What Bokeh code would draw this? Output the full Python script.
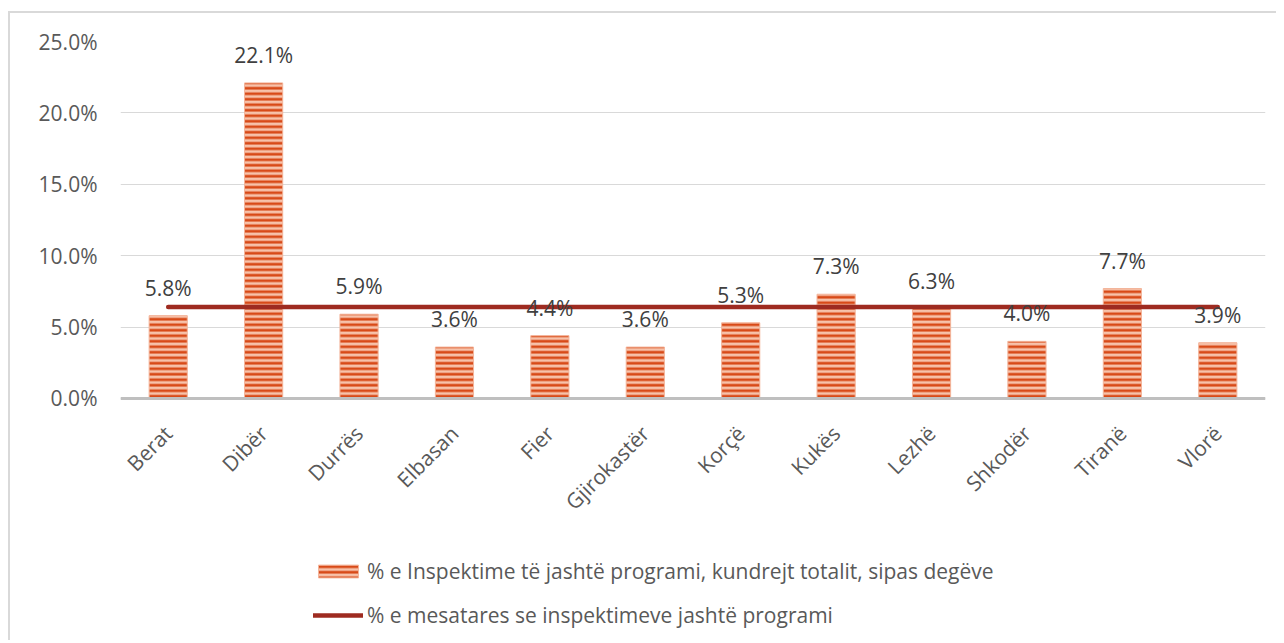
from bokeh.plotting import figure
from bokeh.models import (FactorRange, Range1d, FixedTicker, PrintfTickFormatter,
                          ColumnDataSource, Legend, LegendItem, LabelSet)
from bokeh.core.properties import value
from bokeh.embed import file_html
from bokeh.resources import INLINE
import math

categories = ["Berat", "Dibër", "Durrës", "Elbasan", "Fier", "Gjirokastër",
              "Korçë", "Kukës", "Lezhë", "Shkodër", "Tiranë", "Vlorë"]
values = [5.8, 22.1, 5.9, 3.6, 4.4, 3.6, 5.3, 7.3, 6.3, 4.0, 7.7, 3.9]
mean_value = 6.4
y_ticks = [0, 5, 10, 15, 20, 25]
bar_label = "% e Inspektime të jashtë programi, kundrejt totalit, sipas degëve"
line_label = "% e mesatares se inspektimeve jashtë programi"

FONT = "Open Sans"
FS = "21px"

src = ColumnDataSource(dict(cat=categories, val=values,
                            lbl=[f"{v:.1f}%" for v in values]))

# frame extends below the value axis so that the category labels and the
# legend can sit inside it; the x axis is pinned at y = 0
p = figure(x_range=FactorRange(*categories), y_range=Range1d(-16.95, 25),
           frame_width=1145, frame_height=599, output_backend="svg",
           toolbar_location=None,
           min_border_left=110, min_border_right=11, min_border_top=28,
           min_border_bottom=0)
p.styles = {"border-top": "2px solid #D9D9D9", "border-left": "2px solid #D9D9D9",
            "margin-top": "11px", "margin-left": "8px"}
p.outline_line_color = None
p.background_fill_color = "white"

bars = p.vbar(x="cat", top="val", width=0.4, source=src,
              fill_color="#F7C2AA", line_color="#F3B49A", line_width=1,
              hatch_pattern="horizontal_line", hatch_color="#D84A18",
              hatch_scale=5.5, hatch_weight=2.7)

line = p.line(x=[categories[0], categories[-1]], y=[mean_value, mean_value],
              line_color="#9E2B20", line_width=4.5, line_cap="round")

labels = LabelSet(x="cat", y="val", text="lbl", source=src, y_offset=14,
                  text_align="center", text_baseline="bottom",
                  text_font=value(FONT), text_font_size=value(FS),
                  text_color="#404040")
p.add_layout(labels)

p.xgrid.grid_line_color = None
p.ygrid.grid_line_color = "#D9D9D9"
p.ygrid.grid_line_width = 1
p.ygrid.ticker = FixedTicker(ticks=y_ticks)

p.yaxis.ticker = FixedTicker(ticks=y_ticks)
p.yaxis.formatter = PrintfTickFormatter(format="%.1f%%")
p.yaxis.axis_line_color = None
p.yaxis.major_tick_line_color = None
p.yaxis.minor_tick_line_color = None
p.yaxis.major_label_text_font = FONT
p.yaxis.major_label_text_font_size = FS
p.yaxis.major_label_text_color = "#595959"
p.yaxis.major_label_standoff = 17

p.xaxis.fixed_location = 0
p.xaxis.axis_line_color = "#BFBFBF"
p.xaxis.axis_line_width = 3
p.xaxis.major_tick_line_color = None
p.xaxis.minor_tick_line_color = None
p.xaxis.major_label_orientation = math.pi / 4
p.xaxis.major_label_text_font = FONT
p.xaxis.major_label_text_font_size = FS
p.xaxis.major_label_text_color = "#595959"
p.xaxis.major_label_standoff = 25

legend = Legend(items=[LegendItem(label=bar_label, renderers=[bars]),
                       LegendItem(label=line_label, renderers=[line])],
                orientation="vertical", location=(193, 11),
                label_text_font=FONT, label_text_font_size=FS,
                label_text_color="#595959", glyph_width=50, glyph_height=16,
                label_height=20, spacing=16, label_standoff=4,
                border_line_color=None, background_fill_alpha=0, padding=0,
                margin=0)
p.add_layout(legend, "center")

open("out.html", "w").write(file_html(p, INLINE))
